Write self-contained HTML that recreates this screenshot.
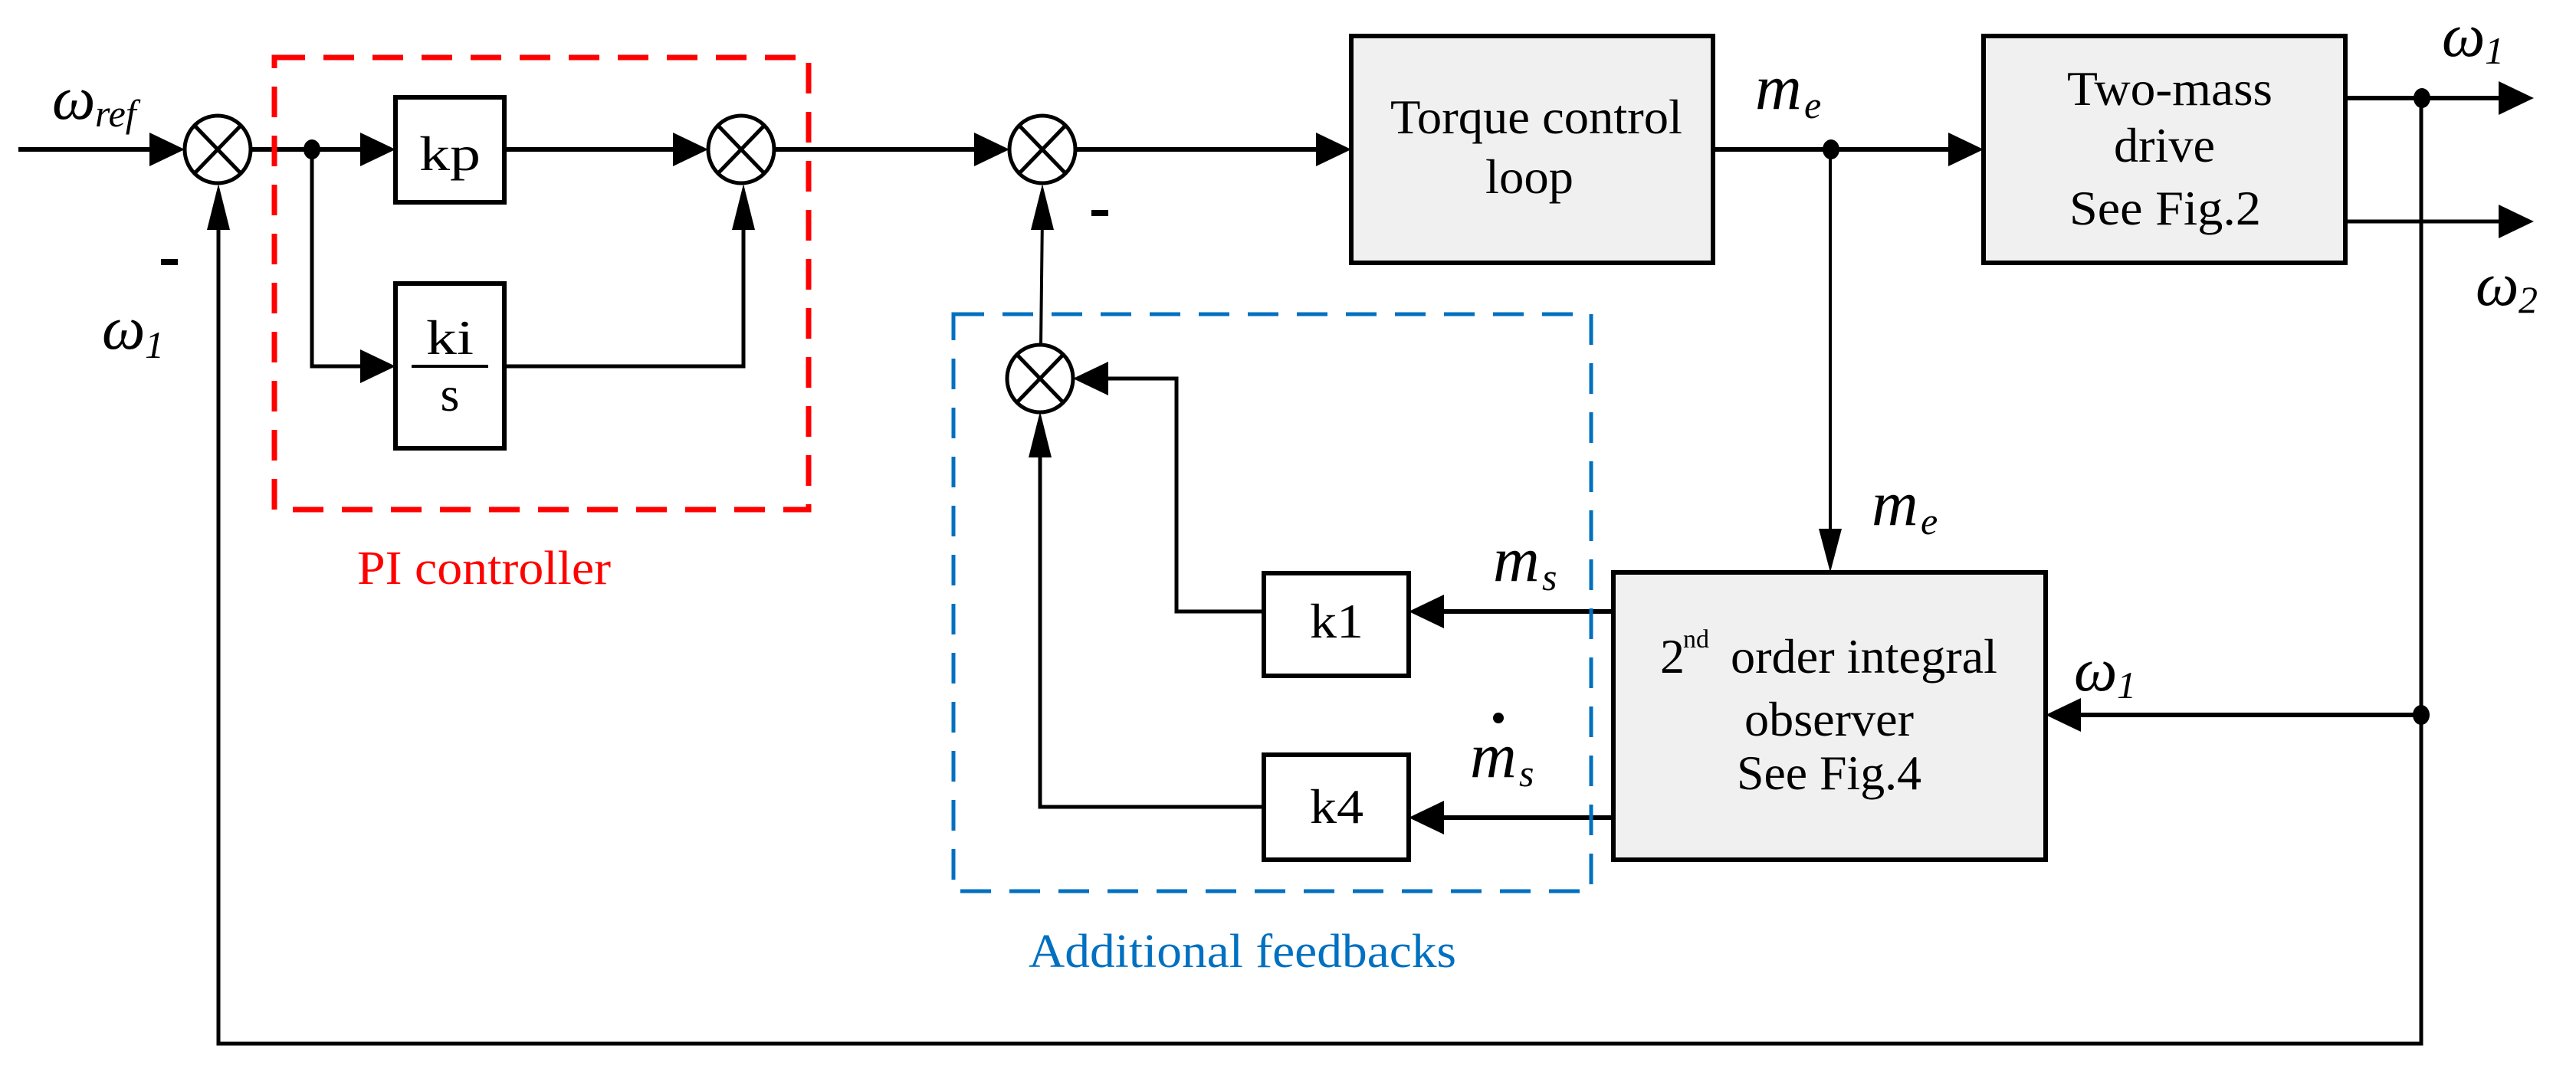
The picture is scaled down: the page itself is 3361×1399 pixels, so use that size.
<!DOCTYPE html>
<html><head><meta charset="utf-8"><style>
html,body{margin:0;padding:0;background:#fff;}
svg{display:block;}
text{font-family:"Liberation Serif",serif;}
</style></head><body>
<svg width="3361" height="1399" viewBox="0 0 3361 1399" xmlns="http://www.w3.org/2000/svg">
<g stroke="#000" fill="none" stroke-width="6">
<line x1="24" y1="195" x2="200" y2="195"/>
<line x1="327" y1="195" x2="475" y2="195"/>
<line x1="658" y1="195" x2="880" y2="195"/>
<line x1="1010" y1="195" x2="1275" y2="195"/>
<line x1="1403" y1="195" x2="1720" y2="195"/>
<line x1="2235" y1="195" x2="2545" y2="195"/>
<polyline points="407,195 407,478 475,478" stroke-width="5"/>
<polyline points="658,478 970,478 970,280" stroke-width="5"/>
<polyline points="285,280 285,1362 3159,1362 3159,128" stroke-width="5"/>
<line x1="3060" y1="128" x2="3265" y2="128"/>
<line x1="3060" y1="289" x2="3265" y2="289" stroke-width="5"/>
<line x1="2388" y1="195" x2="2388" y2="700" stroke-width="4"/>
<line x1="3159" y1="933" x2="2710" y2="933"/>
<line x1="2105" y1="798" x2="1880" y2="798"/>
<line x1="2105" y1="1067" x2="1880" y2="1067"/>
<polyline points="1649,798 1535,798 1535,494 1440,494" stroke-width="5"/>
<polyline points="1649,1053 1357,1053 1357,580" stroke-width="5"/>
<line x1="1358" y1="451" x2="1360" y2="280" stroke-width="4"/>
</g>
<g fill="#000">
<polygon points="241,195 195,173 195,217"/>
<polygon points="516,195 470,173 470,217"/>
<polygon points="924,195 878,173 878,217"/>
<polygon points="1317,195 1271,173 1271,217"/>
<polygon points="1763,195 1717,173 1717,217"/>
<polygon points="2588,195 2542,173 2542,217"/>
<polygon points="516,478 470,456 470,500"/>
<polygon points="285,240 270,300 300,300"/>
<polygon points="970,240 955,300 985,300"/>
<polygon points="1360,240 1345,300 1375,300"/>
<polygon points="1357,537 1342,597 1372,597"/>
<polygon points="1400,494 1446,472 1446,516"/>
<polygon points="3306,128 3260,106 3260,150"/>
<polygon points="3306,289 3260,267 3260,311"/>
<polygon points="2388,747 2373,690 2403,690"/>
<polygon points="2669,933 2715,911 2715,955"/>
<polygon points="1838,798 1884,776 1884,820"/>
<polygon points="1838,1067 1884,1045 1884,1089"/>
<ellipse cx="407" cy="195" rx="11" ry="13"/>
<ellipse cx="2389" cy="195" rx="11" ry="13"/>
<ellipse cx="3160" cy="128" rx="11" ry="13"/>
<ellipse cx="3159" cy="933" rx="11" ry="13"/>
<rect x="210" y="338" width="22" height="8"/>
<rect x="1424" y="274" width="22" height="8"/>
</g>
<g stroke="#000" stroke-width="5" fill="#fff">
<ellipse cx="284" cy="195" rx="43" ry="44"/><line x1="254" y1="164" x2="314" y2="226"/><line x1="314" y1="164" x2="254" y2="226"/>
<ellipse cx="967" cy="195" rx="43" ry="44"/><line x1="937" y1="164" x2="997" y2="226"/><line x1="997" y1="164" x2="937" y2="226"/>
<ellipse cx="1360" cy="195" rx="43" ry="44"/><line x1="1330" y1="164" x2="1390" y2="226"/><line x1="1390" y1="164" x2="1330" y2="226"/>
<ellipse cx="1357" cy="494" rx="43" ry="44"/><line x1="1327" y1="463" x2="1387" y2="525"/><line x1="1387" y1="463" x2="1327" y2="525"/>
</g>
<g stroke="#000" stroke-width="6">
<rect x="516" y="127" width="142" height="137" fill="#fff"/>
<rect x="516" y="370" width="142" height="215" fill="#fff"/>
<rect x="1763" y="47" width="472" height="296" fill="#f0f0f0"/>
<rect x="2588" y="47" width="472" height="296" fill="#f0f0f0"/>
<rect x="2105" y="747" width="564" height="375" fill="#f0f0f0"/>
<rect x="1649" y="748" width="189" height="134" fill="#fff"/>
<rect x="1649" y="985" width="189" height="137" fill="#fff"/>
<line x1="537" y1="478" x2="637" y2="478" stroke-width="4"/>
</g>
<rect x="358" y="75" width="697" height="590" fill="none" stroke="#f00" stroke-width="7" stroke-dasharray="40,24"/>
<rect x="1244" y="410" width="832" height="753" fill="none" stroke="#0070c0" stroke-width="5" stroke-dasharray="40,24"/>
<g font-size="64" fill="#000">
<text x="587" y="222" text-anchor="middle" textLength="80" lengthAdjust="spacingAndGlyphs">kp</text>
<text x="587" y="462" text-anchor="middle" textLength="62" lengthAdjust="spacingAndGlyphs">ki</text>
<text x="587" y="536" text-anchor="middle">s</text>
<text x="1814" y="174" textLength="381" lengthAdjust="spacingAndGlyphs">Torque control</text>
<text x="1938" y="252" textLength="115" lengthAdjust="spacingAndGlyphs">loop</text>
<text x="2697" y="137" textLength="268" lengthAdjust="spacingAndGlyphs">Two-mass</text>
<text x="2758" y="211" textLength="132" lengthAdjust="spacingAndGlyphs">drive</text>
<text x="2700" y="293" textLength="250" lengthAdjust="spacingAndGlyphs">See Fig.2</text>
<text x="2166" y="878">2</text>
<text x="2196" y="845" font-size="34">nd</text>
<text x="2258" y="878" textLength="348" lengthAdjust="spacingAndGlyphs">order integral</text>
<text x="2276" y="960" textLength="221" lengthAdjust="spacingAndGlyphs">observer</text>
<text x="2266" y="1030" textLength="241" lengthAdjust="spacingAndGlyphs">See Fig.4</text>
<text x="1744" y="832" text-anchor="middle" textLength="70" lengthAdjust="spacingAndGlyphs">k1</text>
<text x="1744" y="1074" text-anchor="middle" textLength="70" lengthAdjust="spacingAndGlyphs">k4</text>
</g>
<g font-style="italic" fill="#000">
<text x="68" y="155" font-size="80">ω</text><text x="124" y="165" font-size="50">ref</text>
<text x="133" y="455" font-size="80">ω</text><text x="189" y="467" font-size="50">1</text>
<text x="3186" y="73" font-size="80">ω</text><text x="3242" y="83" font-size="50">1</text>
<text x="3230" y="398" font-size="80">ω</text><text x="3286" y="408" font-size="50">2</text>
<text x="2706" y="901" font-size="80">ω</text><text x="2762" y="911" font-size="50">1</text>
<text x="2290" y="142" font-size="84">m</text><text x="2354" y="154" font-size="50">e</text>
<text x="2442" y="685" font-size="84">m</text><text x="2506" y="697" font-size="50">e</text>
<text x="1948" y="758" font-size="84">m</text><text x="2012" y="770" font-size="50">s</text>
<text x="1918" y="1014" font-size="84">m</text><text x="1982" y="1026" font-size="50">s</text>
</g>
<circle cx="1955" cy="937" r="7" fill="#000"/>
<text x="466" y="762" font-size="62" fill="#f00" textLength="331" lengthAdjust="spacingAndGlyphs">PI controller</text>
<text x="1342" y="1262" font-size="62" fill="#0070c0" textLength="558" lengthAdjust="spacingAndGlyphs">Additional feedbacks</text>
</svg>
</body></html>
